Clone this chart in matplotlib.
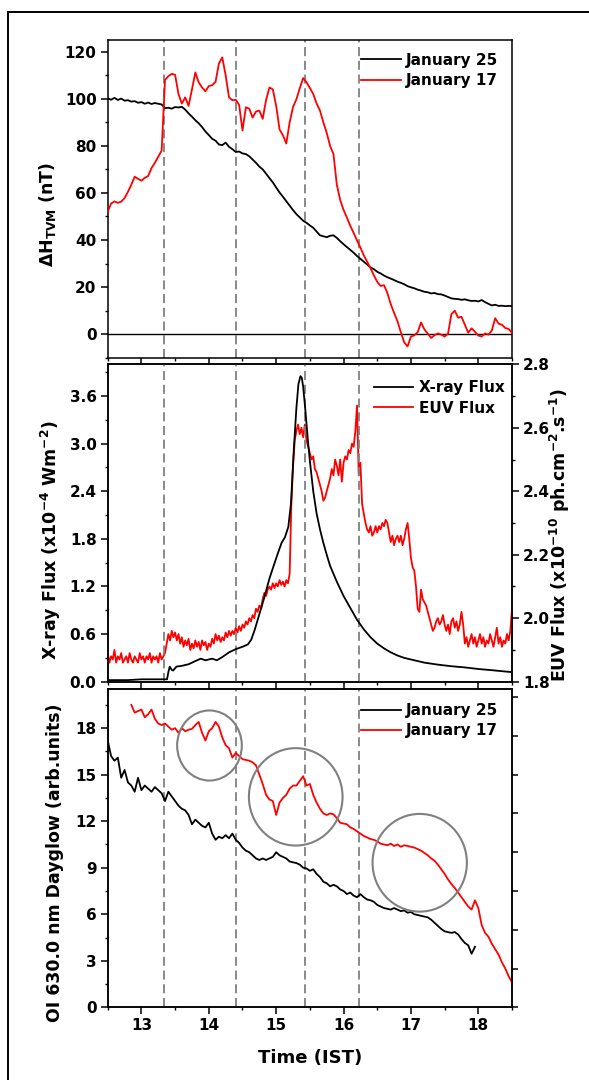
#!/usr/bin/env python3
"""Three stacked panels: dH (TVM), X-ray/EUV flux and OI 630.0 nm dayglow."""

import numpy as np
import matplotlib
matplotlib.use("Agg")
import matplotlib.pyplot as plt
from matplotlib.patches import Ellipse, Rectangle
from matplotlib.ticker import MultipleLocator

plt.rcParams.update(
    {
        "font.family": "DejaVu Sans",
        "font.weight": "bold",
        "font.size": 11,
        "mathtext.fontset": "dejavusans",
        "mathtext.default": "bf",
        "axes.linewidth": 1.1,
    }
)

RED = "#ff0000"
BLACK = "#000000"
GRAY = "#808080"

EVENT_TIMES = [13.33, 14.41, 15.43, 16.23]

# --- panel 1: delta H at TVM (nT), sampled every 0.05 h from 12.5 IST
DH_START, DH_STEP = 12.5, 0.05
dh_jan25 = [
    100.2, 99.6, 100.4, 99.5, 100.1, 99.2, 99.4, 98.8, 99.0, 98.3,
    98.6, 97.9, 98.4, 97.8, 98.2, 97.9, 97.6, 96.0, 96.2, 95.8,
    96.5, 96.3, 96.6, 95.4, 93.8, 92.4, 90.9, 89.6, 88.0, 86.1,
    84.6, 83.0, 82.2, 80.6, 80.3, 81.4, 79.6, 78.6, 77.4, 77.6,
    76.8, 76.5, 75.6, 74.2, 72.8, 71.2, 70.0, 68.2, 66.3, 64.5,
    62.3, 60.2, 58.4, 56.5, 54.6, 52.7, 51.0, 49.6, 48.2, 47.3,
    46.2, 45.2, 43.6, 42.0, 41.6, 41.2, 41.8, 42.0, 40.9, 39.5,
    38.2, 37.0, 35.8, 34.6, 33.2, 32.0, 30.8, 29.6, 28.4, 27.6,
    26.5, 25.8, 24.9, 24.2, 23.6, 23.0, 22.3, 21.8, 21.2, 20.4,
    19.9, 19.5, 18.9, 18.5, 18.0, 17.8, 17.3, 17.5, 17.0, 16.9,
    16.4, 15.8, 15.2, 15.0, 14.9, 14.6, 14.8, 14.4, 14.1, 14.2,
    13.9, 14.5, 13.6, 12.9, 12.2, 12.5, 12.0, 12.1, 11.9, 12.0,
    11.9,
]
dh_jan17 = [
    52.0, 55.5, 56.4, 55.8, 56.3, 57.8, 60.5, 63.5, 66.9, 66.0,
    65.2, 66.4, 67.2, 70.6, 72.8, 75.4, 78.0, 108.0, 109.6, 110.6,
    110.2, 102.0, 98.0, 100.6, 97.0, 104.0, 111.2, 107.0, 104.8, 103.2,
    105.4, 105.8, 107.2, 115.0, 117.6, 110.0, 100.6, 99.4, 99.6, 97.4,
    86.5, 96.4, 95.8, 92.0, 94.6, 95.0, 91.5, 99.5, 104.8, 104.0,
    97.0, 87.0, 84.5, 81.0, 90.0, 96.5, 99.8, 104.5, 108.8, 107.0,
    104.6, 102.0, 98.0, 95.0, 90.0, 85.5, 80.0, 76.5, 63.5, 57.0,
    52.8, 49.5, 46.0, 43.0, 39.8, 36.8, 33.5, 30.8, 28.0, 25.0,
    22.2, 20.5, 20.8, 17.5, 12.8, 9.0, 5.5, 0.8, -3.5, -5.2,
    -1.0, -0.5, 0.8, 5.0, 2.0, 0.2, -1.6, -0.4, 0.3, -0.2,
    -1.0, 0.2, 8.5, 10.0, 7.0, 7.4, 4.0, 0.6, 2.5, 1.0,
    -0.6, -1.0, 0.3, -0.2, 1.5, 6.8, 4.5, 4.0, 2.6, 2.2,
    0.5,
]

# --- panel 2: X-ray flux (x1e-4 W/m2) and EUV flux (x1e10 ph/cm2/s)
xray_time = [
    12.50, 12.80, 13.00, 13.20, 13.38, 13.40, 13.42, 13.45, 13.47, 13.52,
    13.60, 13.70, 13.80, 13.88, 13.95, 14.00, 14.05, 14.12, 14.20, 14.30,
    14.40, 14.50, 14.58, 14.63, 14.68, 14.75, 14.82, 14.90, 14.97, 15.03,
    15.08, 15.13, 15.18, 15.22, 15.26, 15.30, 15.33, 15.36, 15.38, 15.40,
    15.43, 15.47, 15.50, 15.55, 15.60, 15.65, 15.70, 15.75, 15.80, 15.90,
    16.00, 16.10, 16.20, 16.30, 16.40, 16.50, 16.60, 16.70, 16.80, 16.90,
    17.00, 17.20, 17.40, 17.60, 17.80, 18.00, 18.20, 18.50,
]
xray_flux = [
    0.02, 0.02, 0.03, 0.03, 0.03, 0.12, 0.19, 0.15, 0.14, 0.19,
    0.20, 0.22, 0.26, 0.29, 0.27, 0.28, 0.29, 0.27, 0.31, 0.37,
    0.41, 0.44, 0.47, 0.53, 0.65, 0.85, 1.05, 1.30, 1.48, 1.63,
    1.75, 1.82, 1.95, 2.25, 2.90, 3.45, 3.75, 3.85, 3.83, 3.72,
    3.45, 3.05, 2.78, 2.40, 2.12, 1.92, 1.75, 1.60, 1.46, 1.26,
    1.08, 0.93, 0.78, 0.66, 0.56, 0.48, 0.42, 0.37, 0.33, 0.30,
    0.28, 0.24, 0.215, 0.195, 0.18, 0.16, 0.145, 0.12,
]
EUV_START, EUV_STEP = 12.5, 0.025
euv_flux = [
    1.89, 1.86, 1.88, 1.87, 1.90, 1.86, 1.88, 1.87,
    1.89, 1.86, 1.87, 1.88, 1.86, 1.89, 1.87, 1.86,
    1.88, 1.87, 1.86, 1.89, 1.87, 1.88, 1.86, 1.88,
    1.87, 1.89, 1.86, 1.88, 1.87, 1.88, 1.86, 1.89,
    1.87, 1.88, 1.89, 1.92, 1.95, 1.93, 1.96, 1.94,
    1.955, 1.93, 1.95, 1.92, 1.94, 1.91, 1.93, 1.915,
    1.935, 1.90, 1.92, 1.905, 1.93, 1.91, 1.925, 1.90,
    1.93, 1.915, 1.925, 1.90, 1.92, 1.91, 1.935, 1.92,
    1.95, 1.93, 1.945, 1.925, 1.94, 1.93, 1.955, 1.94,
    1.96, 1.945, 1.96, 1.95, 1.97, 1.955, 1.975, 1.96,
    1.98, 1.97, 1.99, 1.98, 2.00, 1.99, 2.01, 2.00,
    2.03, 2.02, 2.04, 2.03, 2.06, 2.08, 2.07, 2.09,
    2.10, 2.09, 2.11, 2.095, 2.11, 2.10, 2.12, 2.105,
    2.115, 2.10, 2.12, 2.11, 2.14, 2.36, 2.48, 2.56,
    2.59, 2.61, 2.58, 2.60, 2.57, 2.61, 2.56, 2.54,
    2.52, 2.50, 2.51, 2.47, 2.46, 2.44, 2.42, 2.40,
    2.37, 2.38, 2.40, 2.42, 2.44, 2.47, 2.45, 2.50,
    2.48, 2.45, 2.50, 2.43, 2.49, 2.51, 2.50, 2.53,
    2.52, 2.55, 2.54, 2.59, 2.67, 2.45, 2.49, 2.36,
    2.33, 2.30, 2.28, 2.27, 2.29, 2.26, 2.27, 2.29,
    2.27, 2.29, 2.28, 2.30, 2.29, 2.31, 2.30, 2.27,
    2.24, 2.26, 2.23, 2.25, 2.26, 2.24, 2.26, 2.23,
    2.25, 2.28, 2.30, 2.25, 2.19, 2.16, 2.15, 2.10,
    2.03, 2.02, 2.09, 2.06, 2.05, 2.04, 2.02, 2.00,
    1.98, 1.96, 1.97, 1.99, 2.00, 1.98, 1.99, 2.01,
    1.98, 1.96, 1.98, 1.95, 1.99, 2.00, 1.97, 1.99,
    1.96, 1.98, 2.02, 1.98, 1.92, 1.94, 1.91, 1.93,
    1.95, 1.92, 1.94, 1.91, 1.93, 1.95, 1.92, 1.94,
    1.91, 1.93, 1.92, 1.95, 1.93, 1.91, 1.94, 1.97,
    1.92, 1.94, 1.91, 1.93, 1.92, 1.95, 1.93, 1.96,
    2.03,
]

# --- panel 3: OI 630.0 nm dayglow (arb. units), every 0.05 h
OG25_START, OG17_START, OG_STEP = 12.5, 12.85, 0.05
og_jan25 = [
    17.2, 16.2, 15.9, 16.1, 14.8, 15.3, 14.5, 14.3, 13.9, 14.8,
    14.0, 14.3, 14.1, 13.9, 14.2, 14.0, 13.8, 13.3, 13.9, 13.6,
    13.3, 13.0, 12.8, 12.7, 12.4, 11.8, 12.1, 11.9, 11.7, 11.6,
    11.9, 11.2, 10.8, 11.0, 10.9, 11.1, 10.9, 11.2, 10.8, 10.6,
    10.3, 10.1, 10.0, 9.8, 9.6, 9.5, 9.6, 9.5, 9.6, 9.7,
    10.0, 9.8, 9.7, 9.6, 9.4, 9.35, 9.3, 9.2, 9.0, 8.95,
    8.8, 8.9, 8.6, 8.4, 8.1, 8.0, 7.8, 7.9, 7.8, 7.6,
    7.5, 7.3, 7.4, 7.2, 7.1, 7.3, 7.1, 6.95, 6.9, 6.8,
    6.6, 6.5, 6.4, 6.35, 6.3, 6.4, 6.3, 6.2, 6.25, 6.1,
    6.15, 6.0, 5.95, 5.9, 5.85, 5.8, 5.65, 5.45, 5.25, 5.05,
    4.9, 4.85, 4.8, 4.85, 4.7, 4.4, 4.15, 4.0, 3.45, 3.9,
]
og_jan17 = [
    19.5, 19.0, 19.1, 19.2, 18.7, 18.9, 19.2, 18.6, 18.3, 18.2,
    18.3, 18.1, 17.9, 18.0, 17.7, 18.0, 17.8, 17.9, 17.95, 18.2,
    18.4, 17.7, 17.2, 17.8, 18.0, 18.4, 18.1, 17.4, 16.9, 16.7,
    16.1, 16.4, 16.2, 16.0, 15.95, 15.9, 15.8, 15.6, 15.0, 14.4,
    13.7, 13.4, 13.3, 12.4, 13.2, 13.5, 13.7, 14.1, 14.3, 14.3,
    14.6, 14.9, 14.3, 14.4, 13.7, 13.2, 12.8, 12.5, 12.4, 12.5,
    12.45, 12.2, 11.9, 11.85, 11.8, 11.6, 11.5, 11.35, 11.2, 11.05,
    10.95, 10.85, 10.8, 10.7, 10.55, 10.5, 10.45, 10.55, 10.4, 10.5,
    10.35, 10.45, 10.4, 10.35, 10.3, 10.2, 10.1, 9.95, 9.8, 9.6,
    9.45, 9.2, 8.9, 8.6, 8.25, 7.95, 7.7, 7.4, 7.1, 6.8,
    6.5, 6.3, 6.9, 6.4, 5.3, 4.8, 4.55, 4.1, 3.75, 3.4,
    2.9, 2.5, 2.0, 1.6,
]
# highlighted regions: centre time, centre value, width (h), height
circle_x = [14.01, 15.29, 17.13]
circle_y = [16.88, 13.57, 9.32]
circle_w = [0.96, 1.39, 1.40]
circle_h = [4.52, 6.28, 6.30]


def sample_times(start, step, values):
    return start + step * np.arange(len(values))


def style_axis(ax, major, minor):
    ax.set_xlim(12.5, 18.5)
    ax.xaxis.set_major_locator(MultipleLocator(1))
    ax.xaxis.set_minor_locator(MultipleLocator(0.5))
    ax.yaxis.set_major_locator(MultipleLocator(major))
    ax.yaxis.set_minor_locator(MultipleLocator(minor))
    ax.tick_params(which="major", direction="out", length=5, width=1.1, pad=3,
                   labelsize=11, top=False, right=False)
    ax.tick_params(which="minor", direction="out", length=2.5, width=1.0,
                   top=False, right=False)
    for t in EVENT_TIMES:
        ax.axvline(t, color=GRAY, linewidth=1.3, dashes=(5, 2.6), zorder=1)


def add_legend(ax, x, y):
    ax.legend(loc="upper left", bbox_to_anchor=(x, y), frameon=False,
              borderpad=0, borderaxespad=0, handlelength=2.6,
              handletextpad=0.35, labelspacing=0.35,
              prop={"weight": "bold", "size": 11})


fig = plt.figure(figsize=(5.89, 10.8), dpi=100)
fig.add_artist(Rectangle((8.3 / 589, -0.05), 1.2, 1.05 - 11.7 / 1080,
                         transform=fig.transFigure, fill=False,
                         edgecolor=BLACK, linewidth=1.4))

LEFT, WIDTH = 0.1829, 0.6864
ax1 = fig.add_axes([LEFT, 0.6688, WIDTH, 0.2942])
ax2 = fig.add_axes([LEFT, 0.3688, WIDTH, 0.2939])
ax3 = fig.add_axes([LEFT, 0.0673, WIDTH, 0.2944])

# panel 1
style_axis(ax1, 20, 10)
ax1.axhline(0, color=BLACK, linewidth=1.0, zorder=1)
ax1.plot(sample_times(DH_START, DH_STEP, dh_jan25), dh_jan25, color=BLACK,
         linewidth=1.3, label="January 25", zorder=3)
ax1.plot(sample_times(DH_START, DH_STEP, dh_jan17), dh_jan17, color=RED,
         linewidth=1.3, label="January 17", zorder=3)
ax1.set_ylim(-10, 125)
ax1.tick_params(labelbottom=False)
add_legend(ax1, 0.626, 0.96)

# panel 2: EUV on a right-hand twin axis, X-ray in front
style_axis(ax2, 0.6, 0.3)
ax2.set_ylim(0, 4.0)
ax2.yaxis.set_major_formatter(plt.FormatStrFormatter("%.1f"))
ax2.tick_params(labelbottom=False)
ax2r = ax2.twinx()
ax2r.set_xlim(12.5, 18.5)
ax2r.set_ylim(1.8, 2.8)
ax2r.yaxis.set_major_locator(MultipleLocator(0.2))
ax2r.yaxis.set_minor_locator(MultipleLocator(0.1))
ax2r.yaxis.set_major_formatter(plt.FormatStrFormatter("%.1f"))
ax2r.tick_params(which="major", direction="out", length=5, width=1.1, pad=3,
                 labelsize=11)
ax2r.tick_params(which="minor", direction="out", length=2.5, width=1.0)
ax2r.plot(sample_times(EUV_START, EUV_STEP, euv_flux), euv_flux, color=RED,
          linewidth=1.3, zorder=3)
ax2.set_zorder(ax2r.get_zorder() + 1)
ax2.patch.set_visible(False)
ax2.plot(xray_time, xray_flux, color=BLACK, linewidth=1.3, label="X-ray Flux",
         zorder=3)
ax2.plot([], [], color=RED, linewidth=1.3, label="EUV Flux")
add_legend(ax2, 0.658, 0.95)

# panel 3
style_axis(ax3, 3, 1.5)
ax3.plot(sample_times(OG25_START, OG_STEP, og_jan25), og_jan25, color=BLACK,
         linewidth=1.3, label="January 25", zorder=3)
ax3.plot(sample_times(OG17_START, OG_STEP, og_jan17), og_jan17, color=RED,
         linewidth=1.3, label="January 17", zorder=3)
ax3.set_ylim(0, 20.5)
for cx, cy, w, h in zip(circle_x, circle_y, circle_w, circle_h):
    ax3.add_patch(Ellipse((cx, cy), w, h, fill=False, edgecolor=GRAY,
                          linewidth=1.5, zorder=4))
ax3r = ax3.twinx()
ax3r.set_ylim(0, 20.5)
ax3r.yaxis.set_major_locator(MultipleLocator(2.5))
ax3r.tick_params(which="major", direction="out", length=4, width=1.1,
                 labelright=False)
add_legend(ax3, 0.626, 0.957)

# axis titles
fig.text(48 / 589, 1 - 214 / 1080, r"$\Delta$H$_{\mathbf{TVM}}$ (nT)",
         rotation=90, ha="center", va="center", fontsize=12.5, fontweight="bold")
fig.text(51 / 589, 1 - 540 / 1080, r"X-ray Flux (x10$^{-4}$ Wm$^{-2}$)",
         rotation=90, ha="center", va="center", fontsize=12.5, fontweight="bold")
fig.text(55 / 589, 1 - 863 / 1080, "OI 630.0 nm Dayglow (arb.units)",
         rotation=90, ha="center", va="center", fontsize=12.5, fontweight="bold")
fig.text(560 / 589, 1 - 535 / 1080,
         r"EUV Flux (x10$^{-10}$ ph.cm$^{-2}$.s$^{-1}$)",
         rotation=90, ha="center", va="center", fontsize=12.5, fontweight="bold")
fig.text(310 / 589, 1 - 1058 / 1080, "Time (IST)", ha="center", va="center",
         fontsize=13, fontweight="bold")

fig.savefig("out.png", dpi=100)
